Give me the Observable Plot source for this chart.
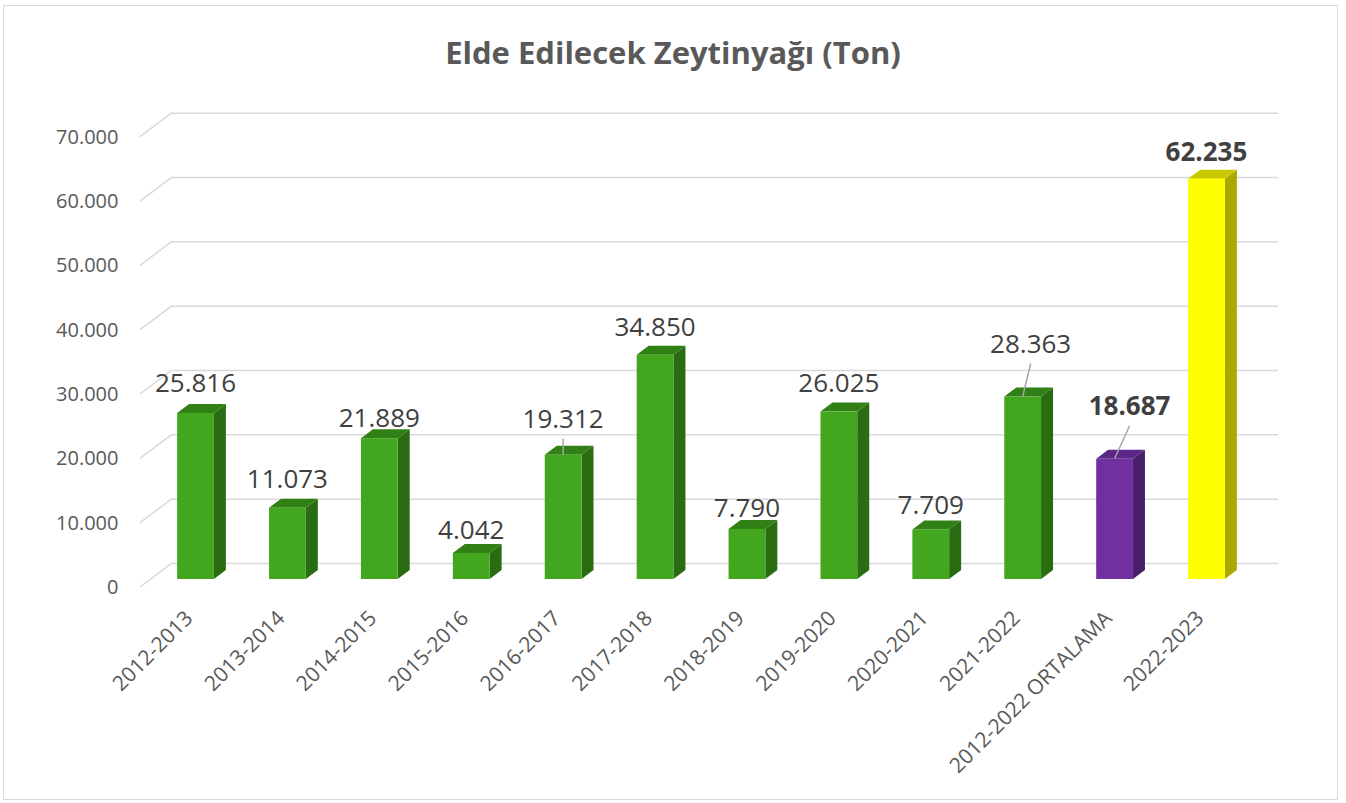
<!DOCTYPE html>
<html><head><meta charset="utf-8">
<script src="https://cdn.jsdelivr.net/npm/d3@7"></script>
<script src="https://cdn.jsdelivr.net/npm/@observablehq/plot@0.6"></script>
<style>
body{margin:0;background:#fff;}
#frame{position:absolute;left:3px;top:5px;width:1335px;height:795px;border:1px solid #d9d9d9;box-sizing:border-box;}
#title{position:absolute;left:0;top:31px;width:1346px;text-align:center;font:bold 31px "Open Sans";color:#595959;}
#chart{position:absolute;left:0;top:0;}
</style></head><body>
<div id="frame"></div>
<div id="title">Elde Edilecek Zeytinyağı (Ton)</div>
<div id="chart"></div>
<script>
// ---- data ----
const categories = ["2012-2013","2013-2014","2014-2015","2015-2016","2016-2017","2017-2018","2018-2019","2019-2020","2020-2021","2021-2022","2012-2022 ORTALAMA","2022-2023"];
const values = [25816, 11073, 21889, 4042, 19312, 34850, 7790, 26025, 7709, 28363, 18687, 62235];
const kinds = ["year","year","year","year","year","year","year","year","year","year","average","forecast"];
const yTicks = [0, 10000, 20000, 30000, 40000, 50000, 60000, 70000];

// ---- layout / style (not data) ----
const labelLift = [30, 29, 21, 23, 36, 28, 21, 29, 25, 53, 53, 27];
const labelShift = [0, 0, 0, 0, 0, 0, 0, 0, 0, 8, 15, 0];
const palette = {
  year:     {front: "#42a71e", side: "#2a6c12", top: "#318015"},
  average:  {front: "#7030a0", side: "#4a1f6a", top: "#5b2788"},
  forecast: {front: "#ffff00", side: "#a9a900", top: "#c9c900"}
};
const DX = 12, DY = -9;      // bar depth
const font = "Open Sans";

const table = categories.map((c, i) => ({cat: c, value: values[i], kind: kinds[i], lift: labelLift[i], shift: labelShift[i]}));
const fmt = d3.formatLocale({decimal: ",", thousands: ".", grouping: [3], currency: ["", ""]}).format(",d");

function diagonals(index, scales, vals, dim) {
  const g = d3.create("svg:g");
  const x0 = dim.marginLeft + 18;
  for (const t of yTicks) {
    const y = scales.y(t);
    g.append("line").attr("x1", x0).attr("y1", y + 8).attr("x2", x0 + 32).attr("y2", y - 16)
      .attr("stroke", "#d9d9d9").attr("stroke-width", 1.5);
  }
  return g.node();
}

function bars3d(index, scales) {
  const g = d3.create("svg:g");
  const bw = scales.x.bandwidth();
  for (const d of table) {
    const x0 = scales.x(d.cat), x1 = x0 + bw;
    const yt = scales.y(d.value), yb = scales.y(0);
    const c = palette[d.kind];
    g.append("path").attr("fill", c.side)
      .attr("d", `M${x1},${yb}L${x1 + DX},${yb + DY}L${x1 + DX},${yt + DY}L${x1},${yt}Z`);
    g.append("path").attr("fill", c.top)
      .attr("d", `M${x0},${yt}L${x0 + DX},${yt + DY}L${x1 + DX},${yt + DY}L${x1},${yt}Z`);
  }
  return g.node();
}

function labels(index, scales) {
  const g = d3.create("svg:g");
  const bw = scales.x.bandwidth();
  for (const d of table) {
    const cx = scales.x(d.cat) + bw / 2;
    const yt = scales.y(d.value);
    const ly = yt - d.lift, lx = cx + d.shift;
    if (d.lift > 35) {
      g.append("line").attr("x1", lx).attr("y1", ly + 20).attr("x2", cx).attr("y2", yt)
        .attr("stroke", "#a6a6a6").attr("stroke-width", 1.5);
    }
    g.append("text").attr("x", lx).attr("y", ly).attr("dy", "0.36em")
      .attr("text-anchor", "middle")
      .attr("font-family", font).attr("font-size", 26)
      .attr("font-weight", d.kind === "year" ? "normal" : "bold")
      .attr("fill", "#404040")
      .text(fmt(d.value));
  }
  return g.node();
}

const chart = Plot.plot({
  width: 1346, height: 803,
  marginLeft: 122, marginRight: 66, marginTop: 128.7, marginBottom: 224,
  style: {background: "transparent", overflow: "visible"},
  x: {type: "band", domain: categories, padding: 0.6, round: false, axis: null},
  y: {domain: [0, 70000], axis: null},
  color: {type: "identity"},
  marks: [
    Plot.ruleY(yTicks, {dx: 22, dy: -16, insetLeft: 28, insetRight: 24, stroke: "#d9d9d9", strokeWidth: 1.5}),
    diagonals,
    Plot.text(yTicks, {y: d => d, text: d => fmt(d), frameAnchor: "left", textAnchor: "end", dx: -4, dy: 8,
      fontSize: 20, fill: "#595959", fontFamily: font}),
    bars3d,
    Plot.barY(table, {x: "cat", y: "value", fill: d => palette[d.kind].front}),
    labels,
    Plot.text(categories, {x: d => d, frameAnchor: "bottom", rotate: -45, textAnchor: "end", dx: -2, dy: 40,
      fontSize: 21, fill: "#595959", fontFamily: font})
  ]
});
document.getElementById("chart").append(chart);
</script>
</body></html>
